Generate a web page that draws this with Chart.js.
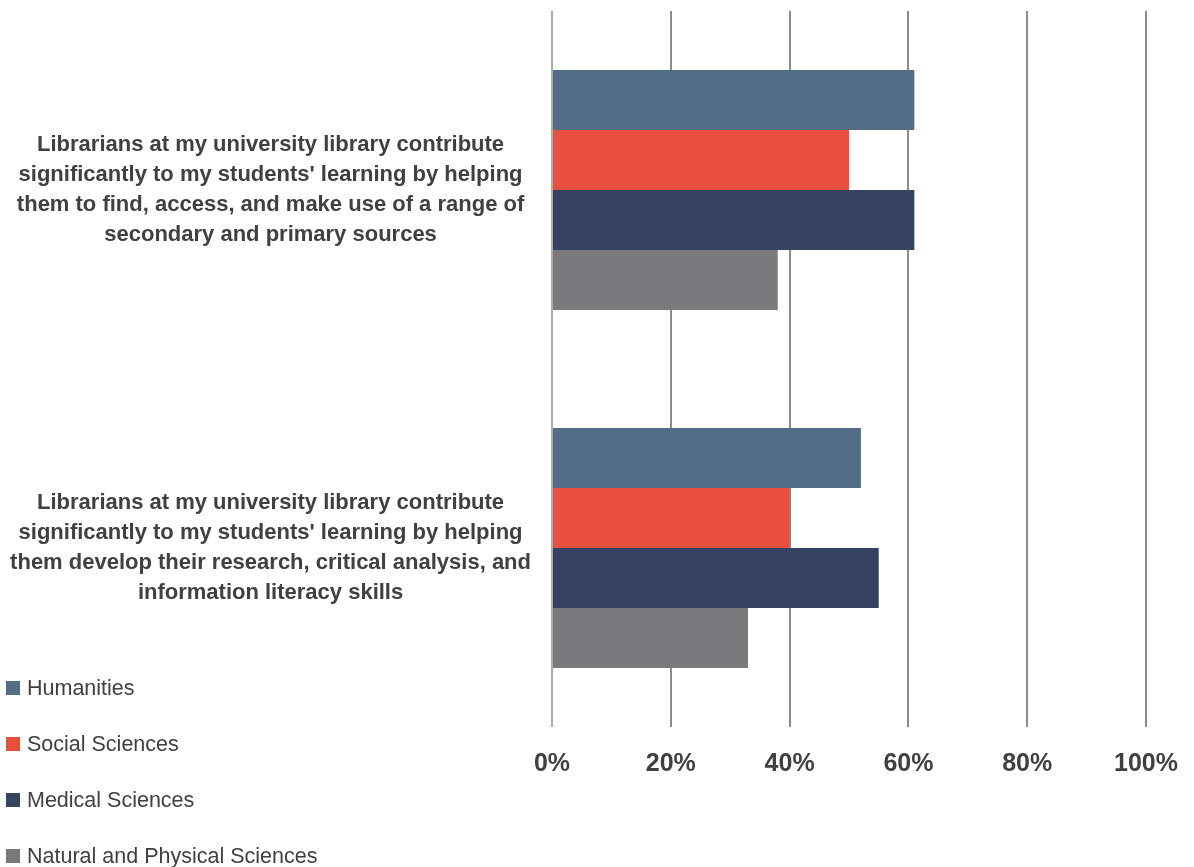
<!DOCTYPE html>
<html>
<head>
<meta charset="utf-8">
<script src="https://cdn.jsdelivr.net/npm/chart.js@4.4.1/dist/chart.umd.min.js"></script>
<style>
  html, body { margin: 0; padding: 0; background: #fff; }
  #wrap { width: 1194px; height: 867px; position: relative; }
</style>
</head>
<body>
<div id="wrap"><canvas id="chart-librarians"></canvas></div>
<script>
const categories = [
    ["Librarians at my university library contribute",
     "significantly to my students' learning by helping",
     "them to find, access, and make use of a range of",
     "secondary and primary sources"],
    ["Librarians at my university library contribute",
     "significantly to my students' learning by helping",
     "them develop their research, critical analysis, and",
     "information literacy skills"]
];
const humanities = [61, 52];
const socialSciences = [50, 40];
const medicalSciences = [61, 55];
const naturalSciences = [38, 33];
const xTicks = [0, 20, 40, 60, 80, 100];

const FONT = '"Liberation Sans", Arial, sans-serif';
const TEXT = '#404040';

// legend drawn as a vertical list in the lower-left corner
const sideLegend = {
    id: 'sideLegend',
    afterDraw(chart) {
        const ctx = chart.ctx;
        ctx.save();
        ctx.font = '21.5px ' + FONT;
        ctx.textBaseline = 'middle';
        chart.data.datasets.forEach((ds, i) => {
            const y = 688 + i * 56;
            ctx.fillStyle = ds.backgroundColor;
            ctx.fillRect(6, y - 7, 14, 14);
            ctx.fillStyle = TEXT;
            ctx.fillText(ds.label, 27, y + 1);
        });
        ctx.restore();
    }
};

const ctx = document.getElementById('chart-librarians').getContext('2d');
new Chart(ctx, {
    type: 'bar',
    data: {
        labels: categories,
        datasets: [
            { label: 'Humanities', data: humanities, backgroundColor: '#536d88' },
            { label: 'Social Sciences', data: socialSciences, backgroundColor: '#e94f3d' },
            { label: 'Medical Sciences', data: medicalSciences, backgroundColor: '#364262' },
            { label: 'Natural and Physical Sciences', data: naturalSciences, backgroundColor: '#7a7a7e' }
        ]
    },
    options: {
        indexAxis: 'y',
        responsive: true,
        maintainAspectRatio: false,
        animation: false,
        categoryPercentage: 0.67,
        barPercentage: 1.0,
        layout: { padding: { top: 11, right: 48, bottom: 70, left: 0 } },
        plugins: {
            legend: { display: false },
            tooltip: { enabled: false }
        },
        scales: {
            x: {
                min: 0,
                max: 100,
                afterBuildTicks: axis => { axis.ticks = xTicks.map(v => ({ value: v })); },
                border: { display: false },
                grid: {
                    color: c => c.index === 0 ? '#ababab' : '#8c8c8c',
                    lineWidth: 2,
                    drawTicks: false
                },
                afterFit: axis => {
                    axis.height = 70;
                    axis.paddingLeft = 0;
                    axis.paddingRight = 0;
                },
                ticks: {
                    padding: 22,
                    color: TEXT,
                    font: { family: FONT, size: 25, weight: 'bold' },
                    callback: v => v + '%'
                }
            },
            y: {
                border: { display: false },
                grid: { display: false },
                afterFit: axis => {
                    axis.width = 552;
                    axis.paddingTop = 0;
                    axis.paddingBottom = 0;
                },
                ticks: {
                    crossAlign: 'center',
                    padding: 13,
                    color: TEXT,
                    font: { family: FONT, size: 22, weight: 'bold', lineHeight: 1.36 }
                }
            }
        }
    },
    plugins: [sideLegend]
});
</script>
</body>
</html>
